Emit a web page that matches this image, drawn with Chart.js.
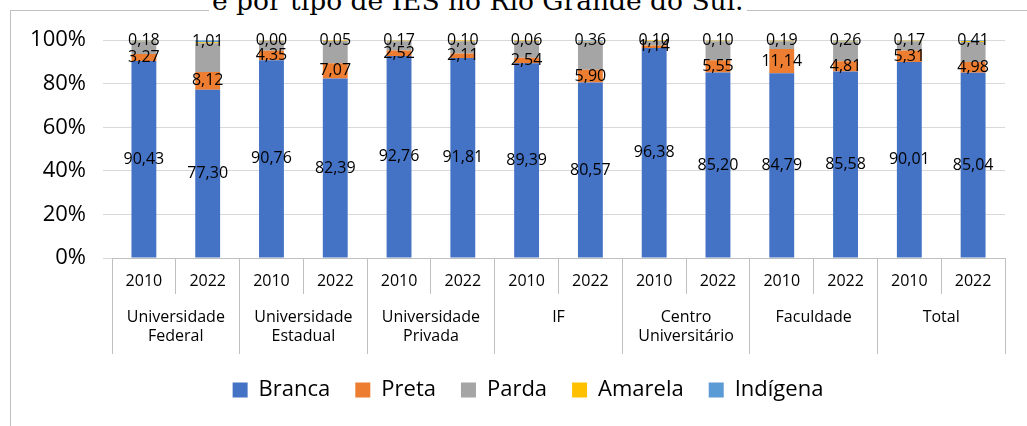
<!DOCTYPE html>
<html>
<head>
<meta charset="utf-8">
<script src="https://cdn.jsdelivr.net/npm/chart.js@4.4.1/dist/chart.umd.min.js"></script>
<style>
  html, body { margin: 0; padding: 0; background: #fff; overflow: hidden; }
  #frame { position: absolute; left: 10px; top: 10px; width: 1100px; height: 500px; border: 1px solid #bfbfbf; }
  #title { position: absolute; left: 209px; top: -13px; font-family: "DejaVu Serif", serif; font-size: 26.5px; line-height: 27px; color: #000; background: #fff; white-space: nowrap; padding: 0 3px; }
  #wrap { position: absolute; left: 10px; top: 10px; width: 1036px; height: 406px; }
</style>
</head>
<body>
<div id="frame"></div>
<div id="title">e por tipo de IES no Rio Grande do Sul.</div>
<div id="wrap"><canvas id="racaChart"></canvas></div>
<script>
const anos = ['2010', '2022', '2010', '2022', '2010', '2022', '2010', '2022', '2010', '2022', '2010', '2022', '2010', '2022'];
const tiposIES = [['Universidade', 'Federal'], ['Universidade', 'Estadual'], ['Universidade', 'Privada'], 'IF', ['Centro', 'Universitário'], 'Faculdade', 'Total'];

const branca   = [90.43, 77.30, 90.76, 82.39, 92.76, 91.81, 89.39, 80.57, 96.38, 85.20, 84.79, 85.58, 90.01, 85.04];
const preta    = [3.27, 8.12, 4.35, 7.07, 2.52, 2.11, 2.54, 5.90, 1.14, 5.55, 11.14, 4.81, 5.31, 4.98];
const parda    = [5.8, 13.2, 4.6, 10.2, 4.2, 5.6, 7.7, 12.9, 2.1, 8.8, 3.6, 9.0, 4.2, 9.2];
const amarela  = [0.3, 0.4, 0.3, 0.3, 0.35, 0.4, 0.3, 0.3, 0.3, 0.35, 0.3, 0.35, 0.3, 0.37];
const indigena = [0.18, 1.01, 0.00, 0.05, 0.17, 0.10, 0.06, 0.36, 0.10, 0.10, 0.19, 0.26, 0.17, 0.41];

const yTicks = [0, 20, 40, 60, 80, 100];

// rotulos de valor (Branca, Preta, Indigena) no centro de cada segmento
const rotulos = {
    id: 'rotulos',
    afterDatasetsDraw(chart) {
        const ctx = chart.ctx;
        ctx.save();
        ctx.font = '16px "Open Sans"';
        ctx.fillStyle = '#000';
        ctx.textAlign = 'center';
        ctx.textBaseline = 'middle';
        chart.data.datasets.forEach((ds, i) => {
            if (!ds.mostrarRotulo) return;
            chart.getDatasetMeta(i).data.forEach((bar, j) => {
                const p = bar.getCenterPoint();
                ctx.fillText(ds.data[j].toFixed(2).replace('.', ','), p.x, p.y);
            });
        });
        ctx.restore();
    }
};

const ctx = document.getElementById('racaChart').getContext('2d');
new Chart(ctx, {
    type: 'bar',
    data: {
        labels: anos,
        datasets: [
            { label: 'Branca', data: branca, backgroundColor: '#4472C4', mostrarRotulo: true },
            { label: 'Preta', data: preta, backgroundColor: '#ED7D31', mostrarRotulo: true },
            { label: 'Parda', data: parda, backgroundColor: '#A5A5A5' },
            { label: 'Amarela', data: amarela, backgroundColor: '#FFC000' },
            { label: 'Indígena', data: indigena, backgroundColor: '#5B9BD5', mostrarRotulo: true }
        ]
    },
    options: {
        responsive: true,
        maintainAspectRatio: false,
        animation: false,
        layout: { padding: { top: 30, left: 0, right: 0, bottom: 5 } },
        datasets: { bar: { barPercentage: 0.39, categoryPercentage: 1, borderWidth: 0 } },
        scales: {
            x: {
                stacked: true,
                weight: 1,
                grid: { offset: true, drawOnChartArea: false, tickLength: 36, color: '#bfbfbf' },
                border: { color: '#bfbfbf' },
                ticks: { color: '#000', font: { family: 'Open Sans', size: 16 }, padding: -22, maxRotation: 0 },
                afterFit: s => { s.height = 36; }
            },
            x2: {
                type: 'category',
                position: 'bottom',
                labels: tiposIES,
                offset: true,
                weight: 2,
                grid: { offset: true, drawOnChartArea: false, tickLength: 60, color: '#bfbfbf' },
                border: { display: false },
                ticks: { color: '#000', font: { family: 'Open Sans', size: 16 }, padding: -46, maxRotation: 0 },
                afterFit: s => { s.height = 60; }
            },
            y: {
                stacked: true,
                min: 0,
                max: 100,
                afterBuildTicks: s => { s.ticks = yTicks.map(v => ({ value: v })); },
                grid: { color: '#d9d9d9', tickLength: 9 },
                border: { display: false },
                ticks: { color: '#000', font: { family: 'Open Sans', size: 22 }, padding: 17, callback: v => v + '%' },
                afterFit: s => { s.width = 102; }
            },
            yDir: {
                position: 'right',
                grid: { display: false },
                border: { display: false },
                ticks: { display: false },
                afterFit: s => { s.width = 41; }
            }
        },
        plugins: {
            legend: {
                position: 'bottom',
                labels: {
                    color: '#000',
                    font: { family: 'Open Sans', size: 22 },
                    boxWidth: 15,
                    boxHeight: 15,
                    padding: 25
                }
            },
            tooltip: { enabled: false }
        }
    },
    plugins: [rotulos]
});
</script>
</body>
</html>
